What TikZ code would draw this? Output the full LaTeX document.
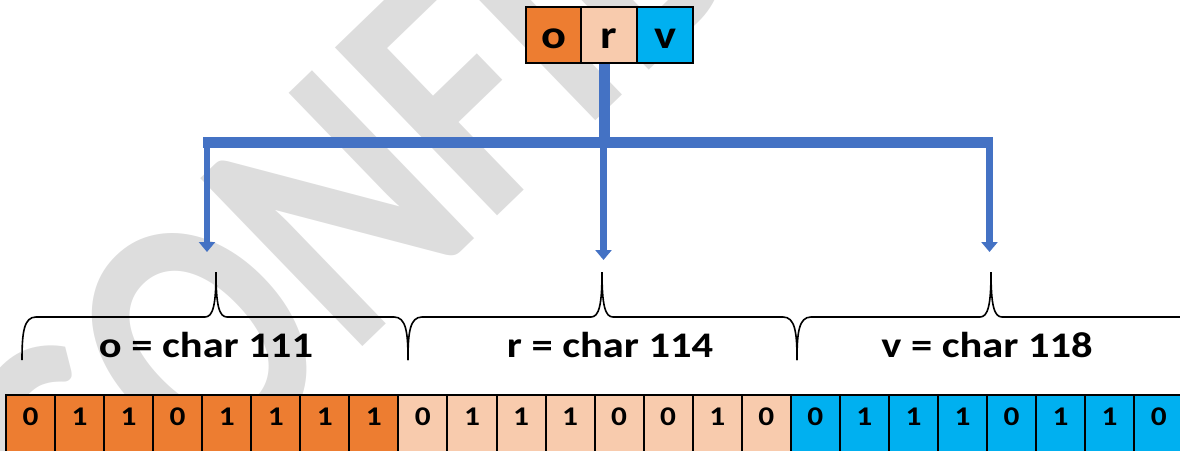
\documentclass[tikz,border=0pt]{standalone}
\usepackage{fontspec}
\usepackage{graphicx}
\setmainfont{Carlito}
\usetikzlibrary{arrows.meta}

\definecolor{cOrange}{HTML}{ED7D31}
\definecolor{cPeach}{HTML}{F8CBAD}
\definecolor{cSky}{HTML}{00B0F0}
\definecolor{cLink}{HTML}{4472C4}
\definecolor{cMark}{RGB}{221,221,221}

% glyphs in this drawing are set slightly wide
\newcommand{\widetxt}[1]{\scalebox{1.16}[1]{#1}}
% condensed lettering for the background stamp
\newcommand{\narrowtxt}[1]{\scalebox{0.80}[1]{#1}}

\tikzset{
  topcell/.style={draw=black, line width=2pt, minimum width=55.5pt, minimum height=56pt,
    inner sep=0pt, text height=26pt, text depth=0pt,
    font=\fontsize{40}{40}\selectfont\bfseries},
  bitcell/.style={draw=black, line width=2pt, minimum width=49.05pt, minimum height=60pt,
    inner sep=0pt, text height=4pt, text depth=4pt,
    font=\fontsize{27}{27}\selectfont\bfseries},
  charlabel/.style={anchor=base, inner sep=0pt, xscale=1.18,
    font=\fontsize{36}{36}\selectfont\bfseries},
  bus/.style={draw=cLink, line width=11.5pt},
  drop/.style={draw=cLink, line width=6.5pt, -{Triangle[width=16pt,length=10pt]}},
  bracepath/.style={draw=black, line width=1.6pt},
  watermark/.style={text=cMark, font=\fontsize{360}{360}\selectfont\bfseries,
    rotate=44, anchor=base west, inner sep=0pt},
}

\begin{document}
\begin{tikzpicture}[x=1pt,y=-1pt]
\path[use as bounding box] (0,0) rectangle (1180,450);
\clip (0,0) rectangle (1180,450);

% faint background stamp
\node[watermark] (stamp) at (102,598) {\narrowtxt{CONFIDENTIAL}};

% the three source characters
\node[topcell, fill=cOrange] (co) at (553.5,35) {\widetxt{o}};
\node[topcell, fill=cPeach]  (cr) at (609,35)   {\widetxt{r}};
\node[topcell, fill=cSky]    (cv) at (665,35)   {\widetxt{v}};

% distribution bus
\coordinate (hub)  at (604.5,142.5);
\coordinate (busL) at (203,142.5);
\coordinate (busR) at (993,142.5);
\coordinate (endA) at (207,252);
\coordinate (endB) at (603.5,260);
\coordinate (endC) at (989.5,252);

\draw[bus] (hub |- cr.south) -- (hub);
\draw[bus] (busL) -- (busR);
\draw[drop] (endA |- busL) -- (endA);
\draw[drop] (endB |- busL) -- (endB);
\draw[drop] (endC |- busL) -- (endC);

% braces: ends at x=a and x=b, cusp at x=c
\foreach \a/\c/\b in {22/216/408, 408/602/797, 797/991/1200}{
  \draw[bracepath] (\a,360) .. controls (\a,332) and (\a+2,317) .. (\a+14,317)
    -- (\c-11,317) .. controls (\c-3,317) and (\c,305) .. (\c,272)
    .. controls (\c,305) and (\c+3,317) .. (\c+11,317)
    -- (\b-14,317) .. controls (\b-2,317) and (\b,332) .. (\b,360);
}

\node[charlabel] (lo) at (206,357) {o = char 111};
\node[charlabel] (lr) at (610,357) {r = char 114};
\node[charlabel] (lv) at (987,357) {v = char 118};

% the 24 bits
\foreach \bit [count=\i from 0] in {0,1,1,0,1,1,1,1}
  \node[bitcell, fill=cOrange] (b\i) at ({6+49.05*(\i+0.5)},425) {\widetxt{\bit}};
\foreach \bit [count=\i from 8] in {0,1,1,1,0,0,1,0}
  \node[bitcell, fill=cPeach] (b\i) at ({6+49.05*(\i+0.5)},425) {\widetxt{\bit}};
\foreach \bit [count=\i from 16] in {0,1,1,1,0,1,1,0}
  \node[bitcell, fill=cSky] (b\i) at ({6+49.05*(\i+0.5)},425) {\widetxt{\bit}};
\end{tikzpicture}
\end{document}
